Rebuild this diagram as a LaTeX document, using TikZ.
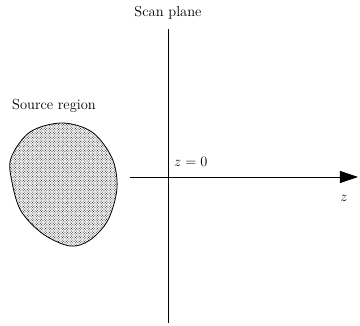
\documentclass[tikz,border=0pt]{standalone}
\usetikzlibrary{patterns,arrows.meta}
\pgfdeclarepatternformonly{finedots}{\pgfpoint{-0.5pt}{-0.5pt}}{\pgfpoint{3pt}{3pt}}{\pgfpoint{2.6pt}{2.6pt}}{%
  \pgfpathcircle{\pgfpoint{0pt}{0pt}}{0.55pt}%
  \pgfpathcircle{\pgfpoint{1.3pt}{1.3pt}}{0.55pt}%
  \pgfusepath{fill}}
\begin{document}
\begin{tikzpicture}[x=1pt,y=-1pt,
  lbl/.style={inner sep=0pt,font=\fontsize{14.5}{17}\selectfont},
  axis/.style={line width=0.8pt}]
\useasboundingbox (0,0) rectangle (360,326);
\coordinate (vt) at (168,29);
\coordinate (vb) at (168,323);
\coordinate (hl) at (130,177);
\coordinate (hr) at (358,177);
\draw[axis] (vt) -- (vb);
\draw[axis,-{Triangle[length=18pt,width=12pt]}] (hl) -- (hr);
\node[lbl] (scan) at (168,13) {Scan plane};
\node[lbl,anchor=base west] (z0) at (174,167) {$z=0$};
\node[lbl] (z) at (344,198) {$z$};
\node[lbl] (src) at (54,106) {Source region};
\draw[line width=0.8pt,pattern=finedots,pattern color=black!80]
  plot[smooth cycle,tension=0.55] coordinates {
  (11,158) (30,132) (62,123) (92,132) (112,158) (117,188) (108,220)
  (90,240) (70,246) (43,234) (21,211) (12,182)};
\end{tikzpicture}
\end{document}
